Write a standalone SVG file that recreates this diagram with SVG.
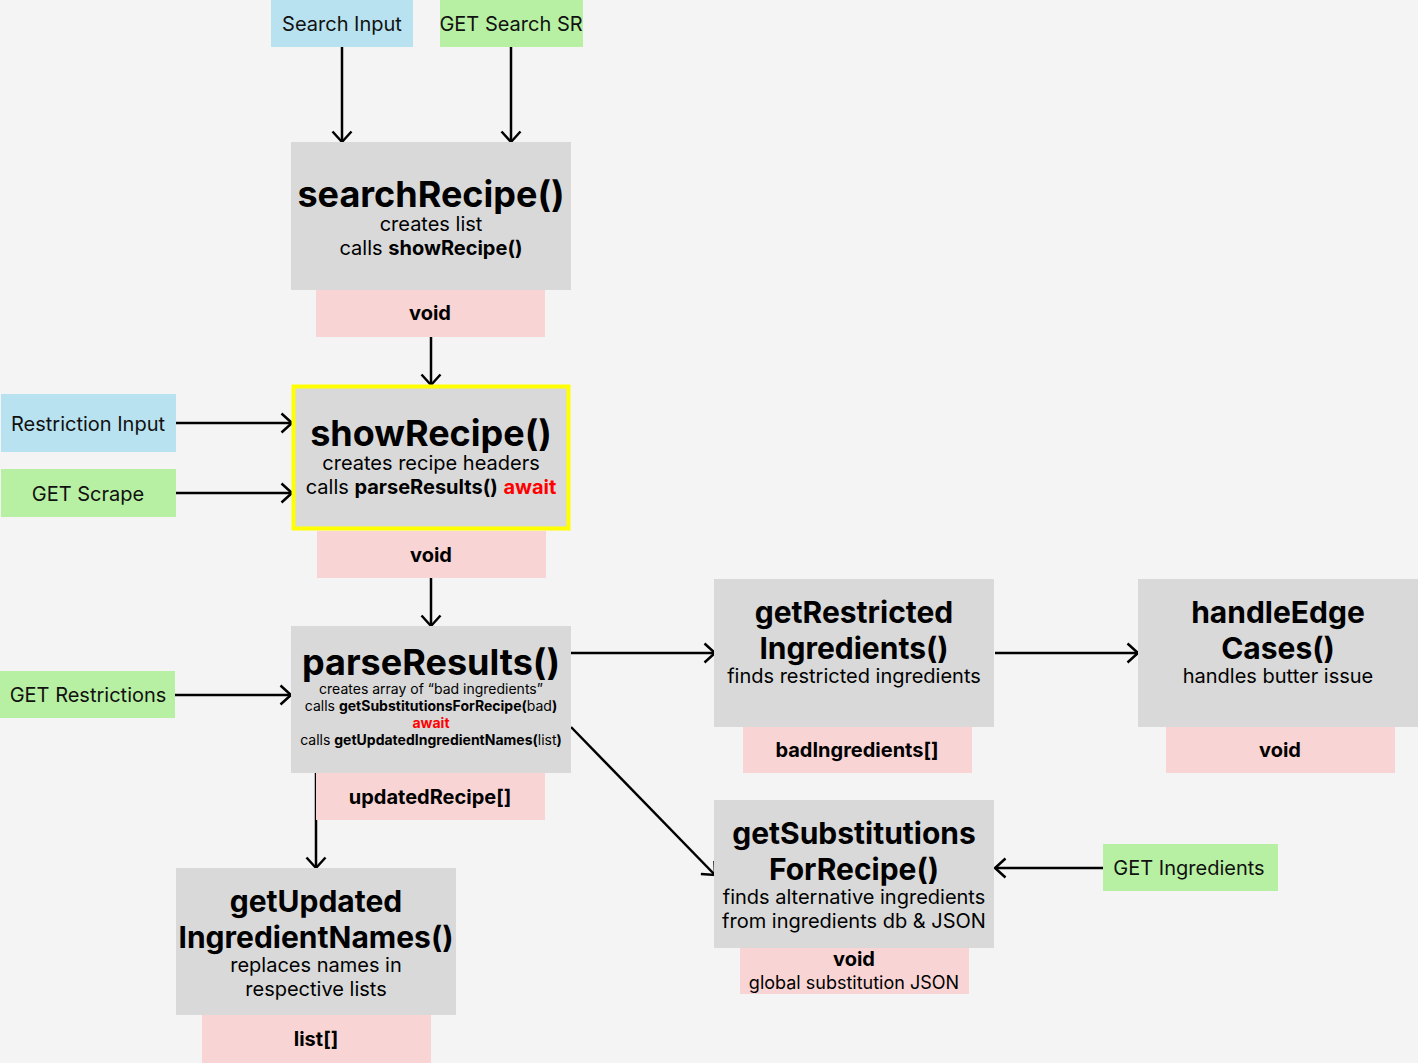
<svg xmlns="http://www.w3.org/2000/svg" width="1418" height="1063" viewBox="0 0 1418 1063">
<defs>
<marker id="arr" markerUnits="userSpaceOnUse" viewBox="0 0 14 22" markerWidth="14" markerHeight="22" refX="12" refY="11" orient="auto">
<path d="M1.5,1.5 L12,11 L1.5,20.5" fill="none" stroke="#000" stroke-width="2.5"/>
</marker>
<style>
text{font-family:Inter,"Liberation Sans",sans-serif;fill:#000;text-anchor:middle;dominant-baseline:central}
.fn{fill:#d9d9d9}
.ret{fill:#f8d4d4}
.in{fill:#b8e2ef}
.get{fill:#b7f0a2}
.t{font-size:36px;font-weight:700}
.t2{font-size:30px;font-weight:700}
.s{font-size:20px}
.xs{font-size:14px}
.r{font-size:20px;font-weight:700}
.lab{font-size:20px;fill:#111}
.b{font-weight:700}
.red{fill:#f00;font-weight:700}
.c{stroke:#000;stroke-width:2.5;fill:none;marker-end:url(#arr)}
</style>
</defs>
<rect width="1418" height="1063" fill="#f4f4f4"/>
<g id="connectors">
<line class="c" x1="342" y1="47" x2="342" y2="142"/>
<line class="c" x1="511" y1="47" x2="511" y2="142"/>
<line class="c" x1="431" y1="337" x2="431" y2="385"/>
<line class="c" x1="176" y1="423" x2="292" y2="423"/>
<line class="c" x1="176" y1="493" x2="292" y2="493"/>
<line class="c" x1="431" y1="578" x2="431" y2="626"/>
<line class="c" x1="175" y1="695" x2="291" y2="695"/>
<line class="c" x1="316" y1="773" x2="316" y2="868"/>
<line class="c" x1="571" y1="653" x2="715" y2="653"/>
<line class="c" x1="995" y1="653" x2="1138" y2="653"/>
<line class="c" x1="571" y1="727" x2="715" y2="875"/>
<line class="c" x1="1103" y1="868" x2="995" y2="868"/>
</g>
<g id="search-input"><rect class="in" x="271" y="0" width="142" height="47"/><text class="lab" x="342" y="24">Search Input</text></g>
<g id="get-search-sr"><rect class="get" x="440" y="0" width="143" height="47"/><text class="lab" x="511" y="24">GET Search SR</text></g>
<g id="restriction-input"><rect class="in" x="1" y="394" width="175" height="58"/><text class="lab" x="88" y="424">Restriction Input</text></g>
<g id="get-scrape"><rect class="get" x="1" y="469" width="175" height="48"/><text class="lab" x="88" y="494">GET Scrape</text></g>
<g id="get-restrictions"><rect class="get" x="0" y="671" width="175" height="47"/><text class="lab" x="88" y="695">GET Restrictions</text></g>
<g id="get-ingredients"><rect class="get" x="1103" y="844" width="175" height="47"/><text class="lab" x="1189" y="868">GET Ingredients</text></g>
<g id="searchRecipe">
<rect class="fn" x="291" y="142" width="280" height="148"/>
<text class="t" x="431" y="194">searchRecipe()</text>
<text class="s" x="431" y="224">creates list</text>
<text class="s" x="431" y="248">calls <tspan class="b">showRecipe()</tspan></text>
<rect class="ret" x="316" y="290" width="229" height="47"/>
<text class="r" x="430" y="313">void</text>
</g>
<g id="showRecipe">
<rect class="fn" x="293.5" y="386.5" width="275" height="142" stroke="#ffff00" stroke-width="4"/>
<text class="t" x="431" y="433">showRecipe()</text>
<text class="s" x="431" y="463">creates recipe headers</text>
<text class="s" x="431" y="487">calls <tspan class="b">parseResults()</tspan> <tspan class="red">await</tspan></text>
<rect class="ret" x="317" y="531" width="229" height="47"/>
<text class="r" x="431" y="555">void</text>
</g>
<g id="parseResults">
<rect class="fn" x="291" y="626" width="280" height="147"/>
<text class="t" x="431" y="662">parseResults()</text>
<text class="xs" x="431" y="688">creates array of “bad ingredients”</text>
<text class="xs" x="431" y="705">calls <tspan class="b">getSubstitutionsForRecipe(</tspan>bad<tspan class="b">)</tspan></text>
<text class="xs red" x="431" y="722">await</text>
<text class="xs" x="431" y="739">calls <tspan class="b">getUpdatedIngredientNames(</tspan>list<tspan class="b">)</tspan></text>
<rect class="ret" x="316" y="773" width="229" height="47"/>
<text class="r" x="430" y="797">updatedRecipe[]</text>
</g>
<g id="getRestrictedIngredients">
<rect class="fn" x="714" y="579" width="280" height="148"/>
<text class="t2" x="854" y="612">getRestricted</text>
<text class="t2" x="854" y="648">Ingredients()</text>
<text class="s" x="854" y="676">finds restricted ingredients</text>
<rect class="ret" x="743" y="727" width="229" height="46"/>
<text class="r" x="857" y="750">badIngredients[]</text>
</g>
<g id="handleEdgeCases">
<rect class="fn" x="1138" y="579" width="280" height="148"/>
<text class="t2" x="1278" y="612">handleEdge</text>
<text class="t2" x="1278" y="648">Cases()</text>
<text class="s" x="1278" y="676">handles butter issue</text>
<rect class="ret" x="1166" y="727" width="229" height="46"/>
<text class="r" x="1280" y="750">void</text>
</g>
<g id="getSubstitutionsForRecipe">
<rect class="fn" x="714" y="800" width="280" height="148"/>
<text class="t2" x="854" y="833">getSubstitutions</text>
<text class="t2" x="854" y="869">ForRecipe()</text>
<text class="s" x="854" y="897">finds alternative ingredients</text>
<text class="s" x="854" y="921">from ingredients db &amp; JSON</text>
<rect class="ret" x="740" y="948" width="229" height="46"/>
<text class="r" x="854" y="959">void</text>
<text class="s" x="854" y="982" style="font-size:18px">global substitution JSON</text>
</g>
<g id="getUpdatedIngredientNames">
<rect class="fn" x="176" y="868" width="280" height="147"/>
<text class="t2" x="316" y="901">getUpdated</text>
<text class="t2" x="316" y="937">IngredientNames()</text>
<text class="s" x="316" y="965">replaces names in</text>
<text class="s" x="316" y="989">respective lists</text>
<rect class="ret" x="202" y="1015" width="229" height="48"/>
<text class="r" x="316" y="1039">list[]</text>
</g>
</svg>
